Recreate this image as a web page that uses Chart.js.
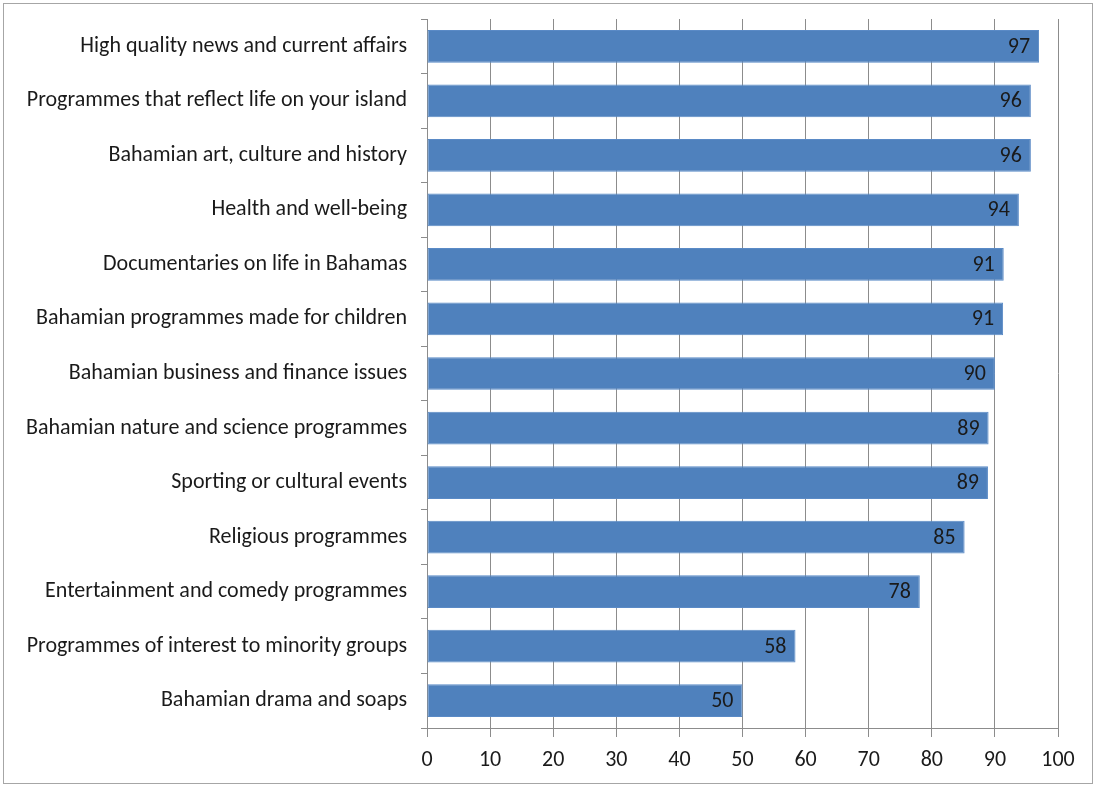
<!DOCTYPE html>
<html>
<head>
<meta charset="utf-8">
<script src="https://cdn.jsdelivr.net/npm/chart.js@4"></script>
<style>
    html, body { margin: 0; padding: 0; background: #ffffff; }
    #frame {
        position: absolute; left: 3px; top: 3px;
        width: 1090px; height: 781px;
        box-sizing: border-box;
        border: 1px solid #a6a6a6;
    }
    #chartBox { position: absolute; left: 0; top: 0; width: 1088px; height: 779px; }
</style>
</head>
<body>
<div id="frame">
    <div id="chartBox"><canvas id="myChart"></canvas></div>
</div>
<script>
const categorias = [
    'High quality news and current affairs',
    'Programmes that reflect life on your island',
    'Bahamian art, culture and history',
    'Health and well-being',
    'Documentaries on life in Bahamas',
    'Bahamian programmes made for children',
    'Bahamian business and finance issues',
    'Bahamian nature and science programmes',
    'Sporting or cultural events',
    'Religious programmes',
    'Entertainment and comedy programmes',
    'Programmes of interest to minority groups',
    'Bahamian drama and soaps'
];
const porcentajes = [97.0, 95.7, 95.7, 93.8, 91.4, 91.3, 90.0, 89.0, 88.9, 85.2, 78.1, 58.4, 50.0];
const ejeX = { min: 0, max: 100, paso: 10 };

const FUENTE = 'Calibri, Carlito, Lato, sans-serif';
const TAM = 22;
const GRIS = '#8c8c8c';

// value text at the inner end of each bar
const etiquetasValor = {
    id: 'etiquetasValor',
    afterDatasetsDraw(chart) {
        const ctx = chart.ctx;
        const meta = chart.getDatasetMeta(0);
        ctx.save();
        ctx.font = TAM + 'px ' + FUENTE;
        ctx.fillStyle = '#1a1a1a';
        ctx.textAlign = 'right';
        ctx.textBaseline = 'middle';
        meta.data.forEach((bar, i) => {
            ctx.fillText(String(Math.round(porcentajes[i])), bar.x - 9, bar.y + 1);
        });
        ctx.restore();
    }
};

document.addEventListener('DOMContentLoaded', () => {
    const ctx = document.getElementById('myChart').getContext('2d');

    new Chart(ctx, {
        type: 'bar',
        data: {
            labels: categorias,
            datasets: [{
                data: porcentajes,
                backgroundColor: '#4f81bd',
                borderColor: '#5a8ac6',
                borderWidth: 1,
                borderSkipped: false,
                categoryPercentage: 0.6,
                barPercentage: 1.0
            }]
        },
        options: {
            indexAxis: 'y',
            responsive: true,
            maintainAspectRatio: false,
            animation: false,
            layout: { padding: { top: 15, right: 34, left: 0, bottom: 0 } },
            plugins: {
                legend: { display: false },
                tooltip: { enabled: false }
            },
            scales: {
                x: {
                    type: 'linear',
                    position: 'bottom',
                    min: ejeX.min,
                    max: ejeX.max,
                    afterFit: (scale) => {
                        scale.height = 55;
                        scale.paddingLeft = 0;
                        scale.paddingRight = 0;
                    },
                    ticks: {
                        stepSize: ejeX.paso,
                        color: '#1a1a1a',
                        padding: 10,
                        font: { family: FUENTE, size: TAM }
                    },
                    grid: {
                        color: GRIS,
                        lineWidth: 1,
                        tickLength: 9,
                        drawOnChartArea: true
                    },
                    border: { color: GRIS, width: 1 }
                },
                y: {
                    type: 'category',
                    position: 'left',
                    afterFit: (scale) => {
                        scale.width = 423;
                        scale.paddingTop = 0;
                        scale.paddingBottom = 0;
                    },
                    ticks: {
                        color: '#1a1a1a',
                        padding: 14,
                        font: { family: FUENTE, size: TAM }
                    },
                    grid: {
                        offset: true,
                        color: GRIS,
                        drawOnChartArea: false,
                        tickLength: 6
                    },
                    border: { color: GRIS, width: 1 }
                }
            }
        },
        plugins: [etiquetasValor]
    });
});
</script>
</body>
</html>
